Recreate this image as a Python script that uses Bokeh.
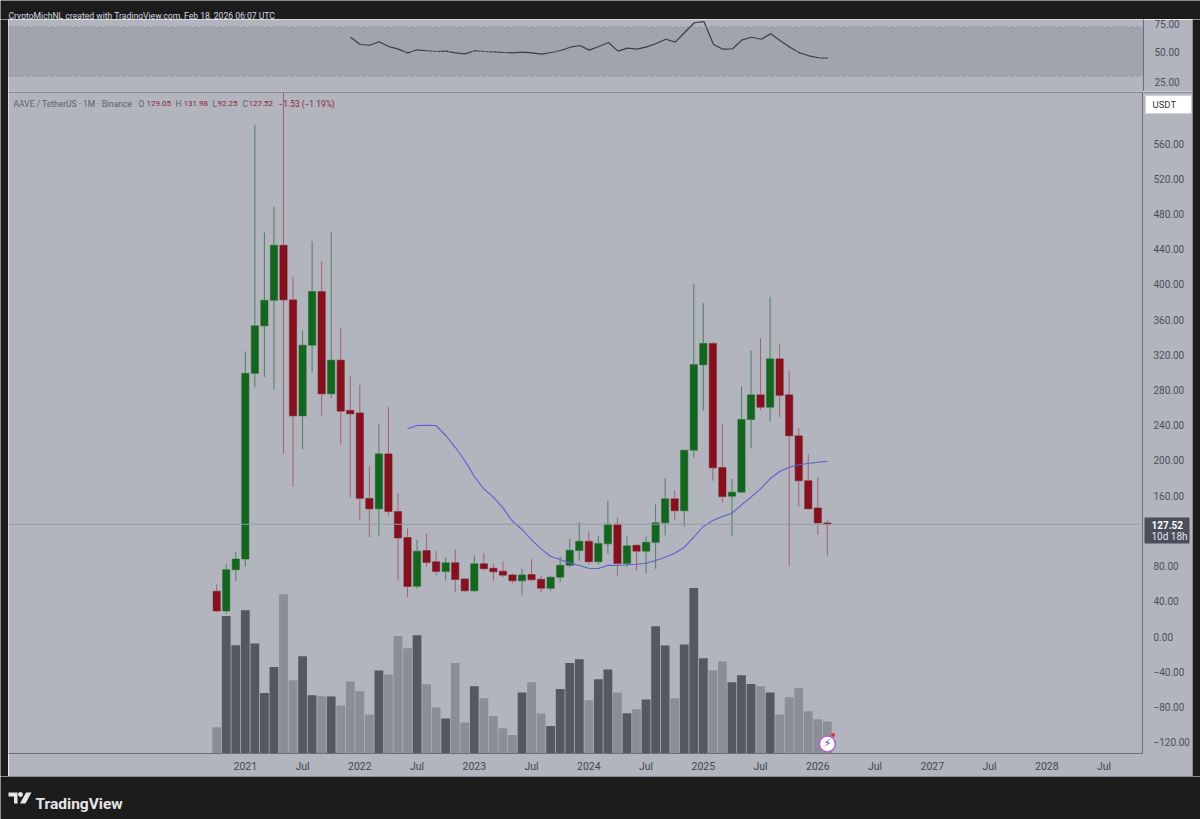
from bokeh.plotting import figure
from bokeh.layouts import column, row
from bokeh.models import Range1d, FixedTicker, Span, BoxAnnotation, Label
from bokeh.core.properties import value
from bokeh.embed import file_html
from bokeh.resources import INLINE

# Monthly candles, Oct 2020 .. Feb 2026 (month index 0 = Oct 2020)
OPEN = [51.5,29,76,88,299,353,382,444.6,382.5,250.7,331,392,275.7,314,257,254,157,145,207.5,142,112.5,57,97.7,84.9,73.8,83.7,65.5,52,82.6,77.6,74.2,70,63.3,70.4,65,54.9,67.4,81,97.7,108.3,85,105.3,127.6,83,103.7,97,107,129.2,156.5,143,211.7,308.7,333,192,159.4,164,246.6,274.6,260.5,315.5,274.6,228,177,146,129.05]
HIGH = [59,82.6,96,324,581.7,459,488.5,618,409,347.7,449,426,459,350,296,286,193.5,242,261,163,122.7,110,117,97,90,98.8,66,92,95,83,85,71.6,77,87.8,69.3,68.5,91,111,130,119.6,114.8,153.8,135,114,105,113.6,150,180,166,212,400.7,378.7,334,241,179,284,325,339,386,331.8,302,237,207.5,181,131.98]
LOW = [28,26,63,79,283,295,280,207.5,170,212.5,300,251,271,218,157.6,132,113,113.6,137.5,63.6,45,54.6,79,69,63.6,50,51,51,75,63.6,67.4,60.6,46.6,63.6,50,52,61.7,78.7,86,82.6,81.8,94,69.3,78.7,75,71.2,77,114.8,132,125,203,256.8,177,152,114,164,214,257.5,244,249,79.5,147.7,145,115.5,92.25]
CLOSE = [29,76,88,299,353,382,444.6,382.5,250.7,331,392,275.7,314,256,253,157,145,207.5,142,112,56.8,97,84,73.8,83.7,64.8,52,82.6,77,73.5,69.7,63.3,70,64.4,54.9,67.4,81,98,108.3,85,105.7,127.6,83,103,97,107,129.2,156.5,143,211.7,309,333,191.7,159,164,246.6,274.6,260.5,315.5,274,228,177,145,129.05,127.52]
VOLUME = [26.3,137.6,108.3,143.3,110,60.6,86.6,159.3,73.3,97.3,58.3,57.3,57,48,72,62.3,39,83,79,117.6,105.3,118.3,69.3,46,35,90.6,31,67.3,55.3,37.6,25.3,18.6,61,71.3,40,27.6,64.6,90.6,94.3,53.3,74.3,84,61,40.3,44.3,54,127.3,108,55.3,109,165.6,95.3,83.3,92,71.3,78.3,69.6,67.3,61,39,56.3,65.6,42.3,34.3,32]
VOLUME_DARK = [0,1,1,1,1,1,1,0,0,1,1,0,1,0,0,0,0,1,0,0,0,1,0,0,1,0,0,1,0,0,0,0,1,0,0,1,1,1,1,0,1,1,0,1,0,1,1,1,0,1,1,1,0,0,1,1,1,0,1,0,0,0,0,0,0]
MA_START = 20
MA = [236,239.7,240,239.7,228.4,215,200,181.8,167.8,158.3,146.2,131,121.6,109.9,99.6,90.9,87.5,83.7,80.7,77.6,77.3,81,80.7,81.5,82.1,83.3,86.4,90.1,94.6,101.5,112.8,125,131.8,136.3,140.1,149.6,158.3,167.8,179.2,187.5,192.4,195.1,196.6,198,199.2]
RSI_START = 14
RSI = [61.6,55.7,55.1,57.9,54.1,51.9,48.9,51.4,50.6,50,50.3,48.9,48.1,50.6,50,49.7,49.2,48.9,49.5,48.9,47.8,49.2,50.8,53.5,54.9,51.1,54.1,57.3,50.3,52.7,51.9,53.8,56.5,60,57.6,65.7,73.4,74.4,55.7,51.9,52.2,59.5,61.6,60,64.4,58.7,53.5,48.9,46.5,44.9,44.5]
PRICE_TICKS = [560,520,480,440,400,360,320,280,240,200,160,80,40,0,-40,-80,-120]
RSI_TICKS = [25,50,75]
TIME_TICKS = [3,9,15,21,27,33,39,45,51,57,63,69,75,81,87,93]
TIME_LABELS = ["2021","Jul","2022","Jul","2023","Jul","2024","Jul","2025","Jul","2026","Jul","2027","Jul","2028","Jul"]

BG = "#b2b5be"; DARK = "#1c1c1c"; TXT = "#4c4f5a"; LINE = "#6b6e78"; SEP = "#5f626b"
GREEN = "#14661f"; RED = "#85111f"; GWICK = "#4f7f5f"; RWICK = "#a06270"
FONT = "Roboto"
XR = (-21.82, 97.03)

def fmt(v):
    return ("\u2212" if v < 0 else "") + f"{abs(v):.2f}"

def style_price_axis(ax, ticks):
    ax.ticker = FixedTicker(ticks=ticks)
    ax.major_label_overrides = {t: fmt(t) for t in ticks}
    ax.major_label_text_font = FONT
    ax.major_label_text_font_size = "10px"
    ax.major_label_text_color = TXT
    ax.major_tick_line_color = None
    ax.minor_tick_line_color = None
    ax.axis_line_color = LINE
    ax.major_label_standoff = 5

def blank(w, h, xr, yr, color=DARK):
    f = figure(width=w, height=h, x_range=Range1d(*xr), y_range=Range1d(*yr), toolbar_location=None,
               output_backend="svg", min_border=0, background_fill_color=color, border_fill_color=color,
               outline_line_color=None)
    f.axis.visible = False
    f.grid.visible = False
    return f

# Header strip
head = blank(1200, 19, (0, 1200), (19, 0))
head.add_layout(Label(x=8, y=15, text="CryptoMichNL created with TradingView.com, Feb 18, 2026 06:07 UTC", text_color="#d8dae0",
                      text_font=FONT, text_font_size="8.6px", text_baseline="alphabetic"))

# RSI pane
rsi = figure(width=1184, height=72, x_range=Range1d(*XR), y_range=Range1d(17.43, 76.06), toolbar_location=None,
             output_backend="svg", min_border_left=0, min_border_right=49, min_border_top=0, min_border_bottom=0,
             y_axis_location="right", background_fill_color=BG, border_fill_color=BG, outline_line_color=None)
rsi.xaxis.visible = False
rsi.grid.visible = False
style_price_axis(rsi.yaxis[0], RSI_TICKS)
rsi.add_layout(BoxAnnotation(bottom=30, top=70, fill_color="#a1a4ad", fill_alpha=1, line_color=None, level="underlay"))
for lv in (30, 70):
    rsi.add_layout(Span(location=lv, dimension="width", line_color="#8e919b", line_dash="3 3", line_width=1))
rsi.add_layout(Span(location=50, dimension="width", line_color="#989ba4", line_dash="1 3", line_width=1))
rsi.line(list(range(RSI_START, RSI_START + len(RSI))), RSI, line_color="#3c3e46", line_width=1.2)

# Price pane
idx = list(range(len(OPEN)))
body_col = [GREEN if c >= o else RED for o, c in zip(OPEN, CLOSE)]
wick_col = [GWICK if c >= o else RWICK for o, c in zip(OPEN, CLOSE)]
body_top = [max(o, c) for o, c in zip(OPEN, CLOSE)]
body_bot = [min(o, c) for o, c in zip(OPEN, CLOSE)]
p = figure(width=1184, height=685, x_range=Range1d(*XR), y_range=Range1d(-132.9, 619.24), toolbar_location=None,
           output_backend="svg", min_border_left=0, min_border_right=49, min_border_top=0, min_border_bottom=23,
           y_axis_location="right", background_fill_color=BG, border_fill_color=BG, outline_line_color=None)
p.extra_y_ranges = {"vol": Range1d(0, 662)}
p.grid.visible = False
style_price_axis(p.yaxis[0], PRICE_TICKS)
xa = p.xaxis[0]
xa.ticker = FixedTicker(ticks=TIME_TICKS)
xa.major_label_overrides = dict(zip(TIME_TICKS, TIME_LABELS))
xa.major_label_text_font = FONT
xa.major_label_text_font_size = "10.5px"
xa.major_label_text_color = "#43464f"
xa.major_tick_line_color = None
xa.minor_tick_line_color = None
xa.axis_line_color = LINE
xa.major_label_standoff = 0

p.vbar(idx, top=VOLUME, bottom=0, width=0.92, y_range_name="vol", line_color=None,
       fill_color=["#56585f" if d else "#8c8e97" for d in VOLUME_DARK])
p.add_layout(Span(location=CLOSE[-1], dimension="width", line_color="#969aa3", line_width=1))
p.vbar(idx, top=body_top, bottom=body_bot, width=0.76, fill_color=body_col, line_color=body_col, line_width=0.5)
p.line(list(range(MA_START, MA_START + len(MA))), MA, line_color="#5a5fd0", line_width=1.1)
p.add_layout(Span(location=618.67, dimension="width", line_color=SEP, line_width=1))

# Marker at the chart's last bar
p.scatter([64], [-122], marker="circle", size=16, fill_color="#ffffff", line_color="#b05fd0", line_width=1.5)
p.text([64], [-122], text=["\u26a1\ufe0e"], text_align="center", text_baseline="middle", text_font_size="11px",
       text_color="#7a35b0", text_font=value("DejaVu Sans"))
p.scatter([64.6], [-112], marker="circle", size=4, fill_color="#e03040", line_color=None)

# Wicks, upper and lower parts
p.segment(idx, body_top, idx, HIGH, line_color=wick_col, line_width=1)
p.segment(idx, LOW, idx, body_bot, line_color=wick_col, line_width=1)

def lab(x, text, color, size="8.4px"):
    p.add_layout(Label(x=x, y=650, x_units="screen", y_units="screen", text=text, text_color=color, text_font=FONT,
                       text_font_size=size, text_baseline="middle"))

lab(5, "AAVE / TetherUS \u00b7 1M \u00b7 Binance", "#5f6270", "8.5px")
for tx, letter, vx, val in [(130, "O", 138, "129.05"), (167, "H", 175, "131.98"), (204, "L", 209, "92.25"), (234, "C", 240, "127.52")]:
    lab(tx, letter, "#5f6270")
    lab(vx, val, "#8c2434", "8px")
lab(270, "\u22121.53 (\u22121.19%)", "#8c2434")

# Currency button and last-price badge, over the price scale
over = figure(width=49, height=685, x_range=Range1d(0, 49), y_range=Range1d(662, 0), toolbar_location=None,
              output_backend="svg", min_border=0, background_fill_color=None, border_fill_color=None,
              outline_line_color=None, margin=(0, 0, 0, -49))
over.axis.visible = False
over.grid.visible = False
over.quad(left=[0], right=[49], top=[0], bottom=[1], fill_color=SEP, line_color=None)
over.quad(left=[2], right=[48], top=[4], bottom=[22], fill_color="#ffffff", line_color="#d0d2d8")
over.quad(left=[1], right=[46], top=[426], bottom=[452], fill_color="#4a4d5a", line_color=None)
over.text([9], [13], text=["USDT"], text_color="#33353d", text_font=value(FONT), text_font_size="9.5px", text_baseline="middle")
over.text([8], [433], text=[f"{CLOSE[-1]:.2f}"], text_color="#ffffff", text_font=value(FONT), text_font_size="10px",
          text_font_style="bold", text_baseline="middle")
over.text([8], [445], text=["10d 18h"], text_color="#e8e8ee", text_font=value(FONT), text_font_size="10px", text_baseline="middle")

# Footer strip with the brand mark
foot = blank(1200, 43, (0, 1200), (43, 0))
foot.patches([[8, 17, 17, 13.5, 13.5, 8], [25.5, 31, 25, 19.5]], [[16, 16, 27, 27, 20, 20], [16, 16, 27, 27]], fill_color="#e6e6e6", line_color=None)
foot.scatter([20], [18], marker="circle", size=5, fill_color="#e6e6e6", line_color=None)
foot.add_layout(Label(x=35, y=27, text="TradingView", text_color="#e6e6e6", text_font=FONT, text_font_size="15.5px",
                      text_font_style="bold", text_baseline="alphabetic"))

left = blank(8, 757, (0, 1), (0, 1))
right = blank(8, 757, (0, 1), (0, 1))
panes = column(rsi, row(p, over, spacing=0), spacing=0)
page = column(head, row(left, panes, right, spacing=0), foot, spacing=0)
open("out.html", "w").write(file_html(page, INLINE))
